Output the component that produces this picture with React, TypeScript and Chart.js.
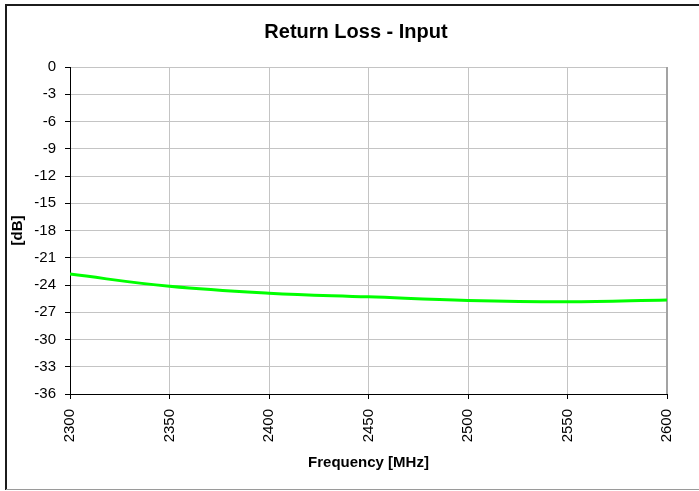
import React, { useEffect, useRef } from "react";
import { Chart, registerables } from "chart.js";

Chart.register(...registerables);

// ---- data ----
const frequencies = [2300, 2350, 2400, 2450, 2500, 2550, 2600];
const returnLossInput = [-22.8, -24.15, -24.9, -25.3, -25.7, -25.85, -25.65];
const xTickValues = [2300, 2350, 2400, 2450, 2500, 2550, 2600];
const yTickValues = [0, -3, -6, -9, -12, -15, -18, -21, -24, -27, -30, -33, -36];

const chartTitle = "Return Loss - Input";
const xTitle = "Frequency [MHz]";
const yTitle = "[dB]";

const FONT = "'Liberation Sans', Arial, Helvetica, sans-serif";

const framePlugin = {
  id: "frame",
  beforeDraw(chart: any) {
    const ctx = chart.ctx;
    ctx.save();
    ctx.fillStyle = "#ffffff";
    ctx.fillRect(0, 0, chart.width, chart.height);
    ctx.strokeStyle = "#1c1c1c";
    ctx.lineWidth = 2;
    ctx.beginPath();
    ctx.moveTo(6, 490);
    ctx.lineTo(6, 5);
    ctx.lineTo(chart.width + 2, 5);
    ctx.stroke();
    ctx.strokeStyle = "#9a9a9a";
    ctx.lineWidth = 1;
    ctx.beginPath();
    ctx.moveTo(6, 489.5);
    ctx.lineTo(chart.width + 2, 489.5);
    ctx.stroke();
    ctx.restore();
  },
  beforeDatasetsDraw(chart: any) {
    const { right, top, bottom } = chart.chartArea;
    const ctx = chart.ctx;
    ctx.save();
    ctx.strokeStyle = "#a3a3a3";
    ctx.lineWidth = 2;
    ctx.beginPath();
    ctx.moveTo(right, top);
    ctx.lineTo(right, bottom);
    ctx.stroke();
    ctx.restore();
  },
};

export default function App() {
  const canvasRef = useRef<HTMLCanvasElement | null>(null);

  useEffect(() => {
    const canvas = canvasRef.current;
    if (!canvas) return;
    const chart = new Chart(canvas, {
      type: "line",
      data: {
        datasets: [
          {
            label: "Return Loss - Input",
            data: frequencies.map((f, i) => ({ x: f, y: returnLossInput[i] })),
            borderColor: "#00ff00",
            backgroundColor: "#00ff00",
            borderWidth: 3,
            pointRadius: 0,
            tension: 0.4,
            fill: false,
          },
        ],
      },
      options: {
        responsive: false,
        animation: false,
        devicePixelRatio: 1,
        layout: { padding: { left: 13, right: 0, top: 0, bottom: 0 } },
        plugins: {
          legend: { display: false },
          tooltip: { enabled: false },
          title: {
            display: true,
            text: chartTitle,
            color: "#000000",
            font: { family: FONT, size: 20, weight: "bold" },
            padding: { top: 20.5, bottom: 22.5 },
          },
        },
        scales: {
          x: {
            type: "linear",
            min: xTickValues[0],
            max: xTickValues[xTickValues.length - 1],
            afterBuildTicks: (s: any) => {
              s.ticks = xTickValues.map((v) => ({ value: v }));
            },
            afterFit: (s: any) => {
              s.height = 97;
            },
            ticks: {
              autoSkip: false,
              maxRotation: 90,
              minRotation: 90,
              padding: 10,
              color: "#000000",
              font: { family: FONT, size: 15 },
              callback: (v: any) => String(v),
            },
            grid: {
              color: "#c4c4c4",
              tickColor: "#000000",
              tickLength: 5,
              lineWidth: 1,
            },
            border: { color: "#000000", width: 1 },
            title: {
              display: true,
              text: xTitle,
              color: "#000000",
              font: { family: FONT, size: 15, weight: "bold" },
              padding: { top: 0, bottom: 19.5 },
            },
          },
          y: {
            position: "left",
            min: yTickValues[yTickValues.length - 1],
            max: yTickValues[0],
            afterBuildTicks: (s: any) => {
              s.ticks = yTickValues.map((v) => ({ value: v }));
            },
            afterFit: (s: any) => {
              s.width = 57;
            },
            ticks: {
              autoSkip: false,
              padding: 9,
              color: "#000000",
              font: { family: FONT, size: 15 },
              callback: (v: any) => String(v),
            },
            grid: {
              color: "#c4c4c4",
              tickColor: "#000000",
              tickLength: 5,
              lineWidth: 1,
            },
            border: { color: "#000000", width: 1 },
            title: {
              display: true,
              text: yTitle,
              color: "#000000",
              font: { family: FONT, size: 15, weight: "bold" },
              padding: { top: -4, bottom: 0 },
            },
          },
          yRightSpace: {
            position: "right",
            display: true,
            grid: { display: false, drawTicks: false },
            ticks: { display: false },
            border: { display: false },
            title: { display: false },
            afterFit: (s: any) => {
              s.width = 32;
            },
          },
        },
      },
      plugins: [framePlugin],
    } as any);
    return () => chart.destroy();
  }, []);

  return (
    <div style={{ position: "absolute", left: 0, top: 0, width: 699, height: 491, background: "#fff" }}>
      <canvas ref={canvasRef} width={699} height={491} style={{ display: "block", width: 699, height: 491 }} />
    </div>
  );
}
